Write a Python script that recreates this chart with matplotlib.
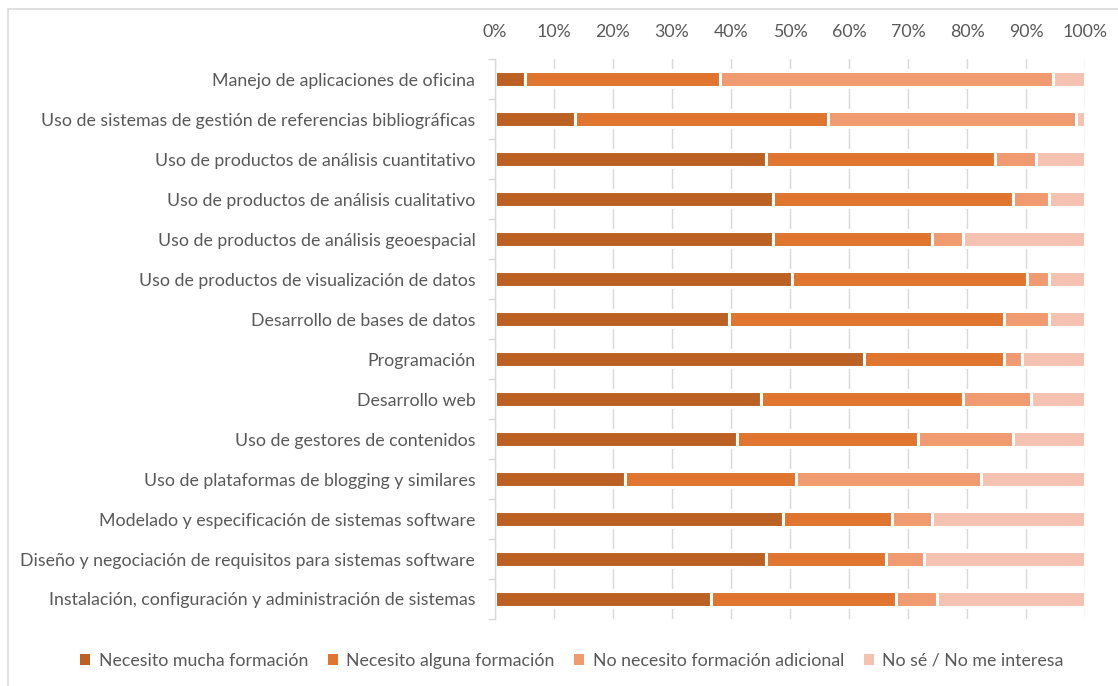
import numpy as np
import matplotlib.pyplot as plt
from matplotlib.patches import Rectangle
from matplotlib.ticker import FixedLocator

# ---------- data ----------
categories = [
    "Manejo de aplicaciones de oficina",
    "Uso de sistemas de gestión de referencias bibliográficas",
    "Uso de productos de análisis cuantitativo",
    "Uso de productos de análisis cualitativo",
    "Uso de productos de análisis geoespacial",
    "Uso de productos de visualización de datos",
    "Desarrollo de bases de datos",
    "Programación",
    "Desarrollo web",
    "Uso de gestores de contenidos",
    "Uso de plataformas de blogging y similares",
    "Modelado y especificación de sistemas software",
    "Diseño y negociación de requisitos para sistemas software",
    "Instalación, configuración y administración de sistemas",
]
mucha = [5.2, 13.6, 45.9, 47.2, 47.2, 50.3, 39.6, 62.5, 45.0, 41.1, 22.0, 48.8, 45.9, 36.7]
alguna = [33.0, 42.8, 38.8, 40.6, 26.8, 39.8, 46.7, 23.8, 34.3, 30.6, 29.0, 18.4, 20.4, 31.2]
no_adicional = [56.4, 42.1, 7.0, 6.1, 5.3, 3.8, 7.6, 2.9, 11.5, 16.1, 31.4, 6.8, 6.3, 6.9]
no_se = [5.4, 1.5, 8.3, 6.1, 20.7, 6.1, 6.1, 10.8, 9.2, 12.2, 17.6, 26.0, 27.4, 25.2]

series_names = [
    "Necesito mucha formación",
    "Necesito alguna formación",
    "No necesito formación adicional",
    "No sé / No me interesa",
]
colors = ["#BC6124", "#DF752E", "#F09A72", "#F5C2B1"]
x_ticks = list(range(0, 101, 10))

# ---------- figure ----------
plt.rcParams["font.family"] = ["Lato", "DejaVu Sans"]
text_color = "#595959"
grid_color = "#D9D9D9"
fs = 12.8

fig = plt.figure(figsize=(11.18, 6.86), dpi=100)
ax = fig.add_axes([0.4425, 0.0977, 0.5283, 0.8159])

# chart border (left/top visible, rest outside the image)
fig.patches.append(Rectangle((8 / 1118, -0.1), 1.2, 1 - 9 / 686 + 0.1,
                             transform=fig.transFigure, fill=False,
                             edgecolor=grid_color, lw=1.2, zorder=0))

y = np.arange(len(categories))
values = np.array([mucha, alguna, no_adicional, no_se])
totals = values.sum(axis=0)
values = values / totals * 100

# white band behind bars to break the gridlines
ax.barh(y, 100, height=0.5, color="white", zorder=1)

left = np.zeros(len(categories))
for vals, name, col in zip(values, series_names, colors):
    ax.barh(y, vals, left=left, height=0.41, color=col, edgecolor="white",
            linewidth=2.2, label=name, zorder=2)
    left += vals

ax.set_xlim(0, 100)
ax.set_ylim(len(categories) - 0.5, -0.5)

ax.xaxis.set_major_locator(FixedLocator(x_ticks))
ax.set_xticklabels([f"{t}%" for t in x_ticks])
ax.xaxis.tick_top()
ax.tick_params(axis="x", length=0, pad=14, labelsize=fs, labelcolor=text_color)
ax.grid(axis="x", color=grid_color, lw=1.0, zorder=0)
ax.set_axisbelow(True)

ax.set_yticks(y)
ax.set_yticklabels(categories)
ax.yaxis.set_minor_locator(FixedLocator(np.arange(-0.5, len(categories), 1)))
ax.tick_params(axis="y", which="major", length=0, pad=14, labelsize=fs,
               labelcolor=text_color)
ax.tick_params(axis="y", which="minor", length=5, color=grid_color, width=1.0)

for side in ("top", "right", "bottom"):
    ax.spines[side].set_visible(False)
ax.spines["left"].set_color(grid_color)
ax.spines["left"].set_linewidth(1.0)

leg = fig.legend(loc="center", bbox_to_anchor=(572 / 1118, 1 - 661 / 686), ncol=4,
                 frameon=False, fontsize=fs, handlelength=0.55, handleheight=0.55,
                 handletextpad=0.5, columnspacing=1.1, labelcolor=text_color)
for h in leg.legend_handles:
    h.set_edgecolor("none")

fig.savefig("out.png", dpi=100)
